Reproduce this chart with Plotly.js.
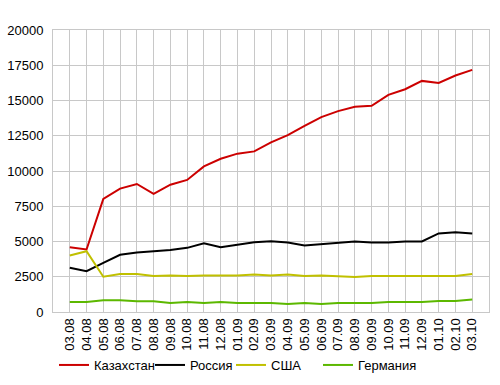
<!DOCTYPE html>
<html>
<head>
<meta charset="utf-8">
<script src="https://cdn.plot.ly/plotly-3.0.1.min.js"></script>
<style>html,body{margin:0;padding:0;background:#fff;}#chart{width:500px;height:385px;}</style>
</head>
<body>
<div id="chart"></div>
<script>
var months = ["03.08","04.08","05.08","06.08","07.08","08.08","09.08","10.08","11.08","12.08",
  "01.09","02.09","03.09","04.09","05.09","06.09","07.09","08.09","09.09","10.09","11.09","12.09",
  "01.10","02.10","03.10"];
var kazakhstan = [4600,4435,8020,8750,9080,8375,9030,9365,10330,10870,11230,11390,12030,12550,13200,13820,14245,14550,14620,15400,15800,16390,16250,16770,17170];
var russia = [3140,2900,3490,4060,4220,4315,4390,4550,4880,4600,4790,4950,5020,4930,4720,4810,4880,5000,4930,4930,5000,5000,5570,5660,5570];
var usa = [4010,4315,2500,2690,2690,2550,2590,2550,2590,2590,2590,2665,2590,2665,2550,2590,2550,2480,2550,2550,2550,2550,2590,2550,2690];
var germany = [710,710,825,825,755,755,640,710,640,710,640,640,640,565,640,565,640,640,640,710,710,710,780,780,895];
var seriesNames = ["Казахстан","Россия","США","Германия"];
var seriesColors = ["#cc0000","#000000","#c0c000","#5cb800"];
var seriesData = [kazakhstan, russia, usa, germany];
var legendIds = ["legend","legend2","legend3","legend4"];
var legendTextX = [94, 190, 271, 358];

var idx = months.map(function(_, i){ return i; });
var traces = seriesData.map(function(d, k){
  return {x: idx, y: d, type: "scatter", mode: "lines", name: seriesNames[k],
    legend: legendIds[k], line: {color: seriesColors[k], width: 2}};
});
var font = {family: "Liberation Sans, Arial, sans-serif", size: 13, color: "#000"};
var layout = {
  width: 500, height: 385,
  margin: {l: 53, r: 11, t: 30, b: 73, autoexpand: false},
  paper_bgcolor: "#fff", plot_bgcolor: "#fff",
  font: font,
  showlegend: true,
  xaxis: {range: [-1, 25], tickmode: "array", tickvals: idx, ticktext: months, tickangle: -90,
    showgrid: true, gridcolor: "#c8c8c8", gridwidth: 1, zeroline: false, automargin: false,
    showline: true, linecolor: "#c8c8c8", mirror: true, ticks: "", ticklen: 0, fixedrange: true},
  yaxis: {range: [0, 20000], dtick: 2500, tick0: 0, showgrid: true, gridcolor: "#c8c8c8",
    zeroline: false, showline: true, linecolor: "#c8c8c8", mirror: true, ticks: "", ticklabelstandoff: 6,
    automargin: false, tickformat: "d", fixedrange: true}
};
legendIds.forEach(function(id, k){
  layout[id] = {orientation: "h", xref: "container", yref: "container",
    x: (legendTextX[k] - 40) / 500, xanchor: "left", y: 20/385, yanchor: "middle",
    font: font, bgcolor: "rgba(0,0,0,0)", borderwidth: 0};
});
Plotly.newPlot("chart", traces, layout, {displayModeBar: false, staticPlot: true});
</script>
</body>
</html>
